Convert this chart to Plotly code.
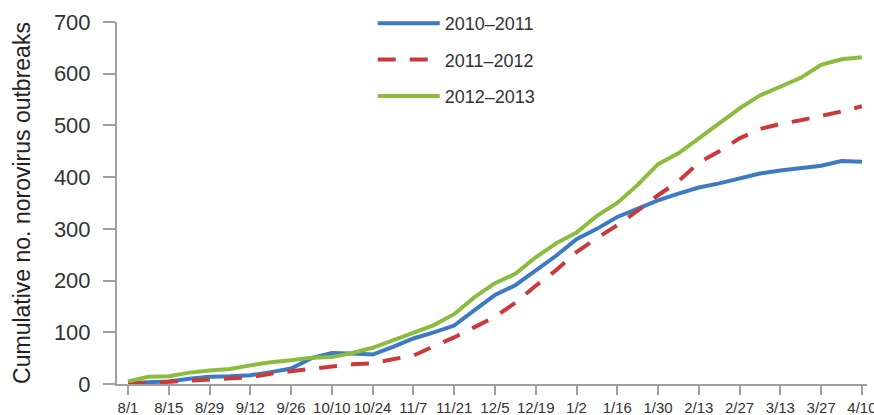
import plotly.graph_objects as go

weeks = ["8/1", "8/8", "8/15", "8/22", "8/29", "9/5", "9/12", "9/19", "9/26", "10/3",
         "10/10", "10/17", "10/24", "10/31", "11/7", "11/14", "11/21", "11/28", "12/5",
         "12/12", "12/19", "12/26", "1/2", "1/9", "1/16", "1/23", "1/30", "2/6", "2/13",
         "2/20", "2/27", "3/6", "3/13", "3/20", "3/27", "4/3", "4/10"]

s2010_2011 = [2, 3, 5, 10, 14, 15, 17, 23, 30, 50, 60, 59, 57, 72, 88, 100, 113, 143, 172,
              191, 220, 248, 280, 300, 323, 340, 355, 368, 380, 388, 397, 407, 413, 417,
              422, 431, 430]
s2011_2012 = [0, 2, 4, 6, 9, 11, 13, 20, 25, 30, 34, 38, 40, 48, 55, 73, 90, 110, 130,
              157, 190, 220, 255, 282, 307, 335, 365, 392, 428, 450, 475, 493, 503, 510,
              518, 527, 537]
s2012_2013 = [5, 14, 15, 22, 26, 29, 36, 42, 46, 51, 52, 60, 70, 85, 100, 114, 135, 168,
              195, 213, 245, 272, 293, 325, 350, 385, 425, 446, 475, 503, 533, 558, 575,
              592, 617, 628, 632]

tick_labels = weeks[::2]
tick_idx = list(range(0, len(weeks), 2))
x = list(range(len(weeks)))

series = [
    ("2010\u20132011", s2010_2011, "#3b7bc6", "solid"),
    ("2011\u20132012", s2011_2012, "#cb3a3b", "18px,14px"),
    ("2012\u20132013", s2012_2013, "#8bbc3e", "solid"),
]

fig = go.Figure()
for i, (name, vals, color, dash) in enumerate(series):
    fig.add_trace(go.Scatter(
        x=x, y=vals, mode="lines", name=name, legendgroup=f"g{i}",
        line=dict(color=color, width=4, dash=dash),
    ))

font_family = "Liberation Sans, Arial, sans-serif"
fig.update_layout(
    width=874, height=415,
    margin=dict(l=117, r=7, t=22, b=31, autoexpand=False),
    paper_bgcolor="white", plot_bgcolor="white",
    font=dict(family=font_family, color="#333333"),
    showlegend=True,
    legend=dict(
        x=0.341, y=1.047, xanchor="left", yanchor="top",
        font=dict(size=18, color="#333333"),
        bgcolor="rgba(0,0,0,0)",
        tracegroupgap=10,
        itemwidth=62,
    ),
    xaxis=dict(
        range=[-0.54, 36.25], automargin=False,
        tickmode="array", tickvals=tick_idx, ticktext=tick_labels,
        showgrid=False, zeroline=False,
        showline=True, linecolor="#a0a0a0", linewidth=2,
        ticks="outside", ticklen=9, tickcolor="#a0a0a0", tickwidth=1.5,
        tickfont=dict(size=15, color="#333333"),
        tickangle=0, ticklabeloverflow="allow",
    ),
    yaxis=dict(
        range=[0, 700], automargin=False,
        tickmode="array", tickvals=[0, 100, 200, 300, 400, 500, 600, 700],
        showgrid=False, zeroline=False,
        showline=True, linecolor="#a0a0a0", linewidth=2,
        ticks="outside", ticklen=12, tickcolor="#a0a0a0", tickwidth=1.5,
        tickfont=dict(size=22, color="#333333"),
        ticklabelstandoff=8,
        title=dict(text="Cumulative no. norovirus outbreaks",
                   font=dict(size=23, color="#222222"), standoff=17),
    ),
)

fig.write_html(
    "out.html",
    config={"displayModeBar": False},
    post_script="document.body.style.margin='0';document.body.style.padding='0';",
)
